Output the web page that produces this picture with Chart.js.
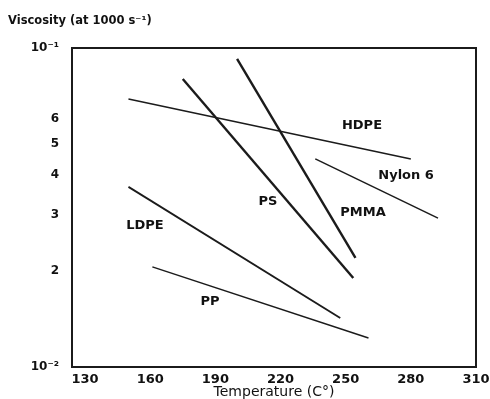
<!DOCTYPE html>
<html>
<head>
<meta charset="utf-8">
<script src="https://cdn.jsdelivr.net/npm/chart.js@4/dist/chart.umd.min.js"></script>
<style>
    html, body { margin: 0; padding: 0; background: #fff; }
    #wrap { width: 490px; height: 399px; }
</style>
</head>
<body>
<div id="wrap"><canvas id="viscChart"></canvas></div>
<script>
// viscosity vs temperature
const polymers = ['HDPE', 'Nylon 6', 'PS', 'PMMA', 'LDPE', 'PP'];
const tempStart = [150, 236, 175, 200, 150, 161];
const tempEnd = [280, 292.5, 253.5, 254.5, 247.5, 260.5];
const viscStart = [0.0692, 0.0449, 0.0800, 0.0924, 0.0367, 0.0206];
const viscEnd = [0.0449, 0.0293, 0.0190, 0.0220, 0.01425, 0.01233];

// where each polymer name sits (temperature, viscosity)
const labelTemp = [257.5, 277.8, 214.2, 258, 157.6, 187.5];
const labelVisc = [0.0569, 0.0397, 0.0331, 0.0304, 0.0277, 0.0160];

const xTicks = [130, 160, 190, 220, 250, 280, 310];
const yTicks = [0.01, 0.02, 0.03, 0.04, 0.05, 0.06, 0.1];
const yTickLabels = ['10⁻²', '2', '3', '4', '5', '6', '10⁻¹'];

const ink = '#1b1b1b';
const widths = { 'PS': 2.4, 'PMMA': 2.4, 'LDPE': 1.8 };

const datasets = polymers.map((name, i) => ({
    label: name,
    data: [
        { x: tempStart[i], y: viscStart[i] },
        { x: tempEnd[i], y: viscEnd[i] }
    ],
    showLine: true,
    borderColor: ink,
    borderWidth: widths[name] || 1.5,
    pointRadius: 0,
    fill: false
}));

const framePlugin = {
    id: 'frame',
    afterDraw(chart) {
        const { ctx, chartArea } = chart;
        ctx.save();
        ctx.strokeStyle = ink;
        ctx.lineWidth = 2;
        ctx.strokeRect(chartArea.left, chartArea.top,
            chartArea.right - chartArea.left, chartArea.bottom - chartArea.top);
        ctx.fillStyle = '#111';
        ctx.font = 'bold 11.5px "DejaVu Sans"';
        ctx.textAlign = 'left';
        ctx.textBaseline = 'middle';
        ctx.fillText('Viscosity (at 1000 s⁻¹)', 8, 21);
        ctx.restore();
    }
};

const namePlugin = {
    id: 'names',
    afterDatasetsDraw(chart) {
        const { ctx, scales } = chart;
        ctx.save();
        ctx.fillStyle = '#111';
        ctx.font = 'bold 13px "DejaVu Sans"';
        ctx.textAlign = 'center';
        ctx.textBaseline = 'middle';
        polymers.forEach((name, i) => {
            ctx.fillText(name, scales.x.getPixelForValue(labelTemp[i]),
                scales.y.getPixelForValue(labelVisc[i]));
        });
        ctx.restore();
    }
};

const ctx = document.getElementById('viscChart').getContext('2d');
new Chart(ctx, {
    type: 'scatter',
    data: { datasets: datasets },
    options: {
        responsive: true,
        maintainAspectRatio: false,
        animation: false,
        layout: { padding: { top: 48, right: 14, bottom: 0, left: 0 } },
        plugins: {
            legend: { display: false },
            tooltip: { enabled: false }
        },
        scales: {
            x: {
                type: 'linear',
                min: 124,
                max: 310,
                grid: { display: false, drawTicks: false },
                border: { display: false },
                afterBuildTicks: scale => { scale.ticks = xTicks.map(v => ({ value: v })); },
                afterFit: scale => {
                    scale.height = 32;
                    scale.paddingLeft = 0;
                    scale.paddingRight = 0;
                },
                ticks: {
                    autoSkip: false,
                    maxRotation: 0,
                    padding: 5,
                    color: '#111',
                    font: { family: 'DejaVu Sans', size: 13, weight: 'bold' }
                },
                title: {
                    display: true,
                    text: 'Temperature (C°)',
                    color: '#111',
                    padding: 0,
                    font: { family: 'DejaVu Sans', size: 14, lineHeight: 1 }
                }
            },
            y: {
                type: 'logarithmic',
                min: 0.01,
                max: 0.1,
                grid: { display: false, drawTicks: false },
                border: { display: false },
                afterBuildTicks: scale => { scale.ticks = yTicks.map(v => ({ value: v })); },
                afterFit: scale => {
                    scale.width = 72;
                    scale.paddingTop = 0;
                    scale.paddingBottom = 0;
                },
                ticks: {
                    autoSkip: false,
                    padding: 13,
                    color: '#111',
                    font: { family: 'DejaVu Sans', size: 12, weight: 'bold' },
                    callback: value => {
                        const k = yTicks.findIndex(t => Math.abs(t - value) < 1e-9);
                        return k >= 0 ? yTickLabels[k] : '';
                    }
                }
            }
        }
    },
    plugins: [framePlugin, namePlugin]
});
</script>
</body>
</html>
